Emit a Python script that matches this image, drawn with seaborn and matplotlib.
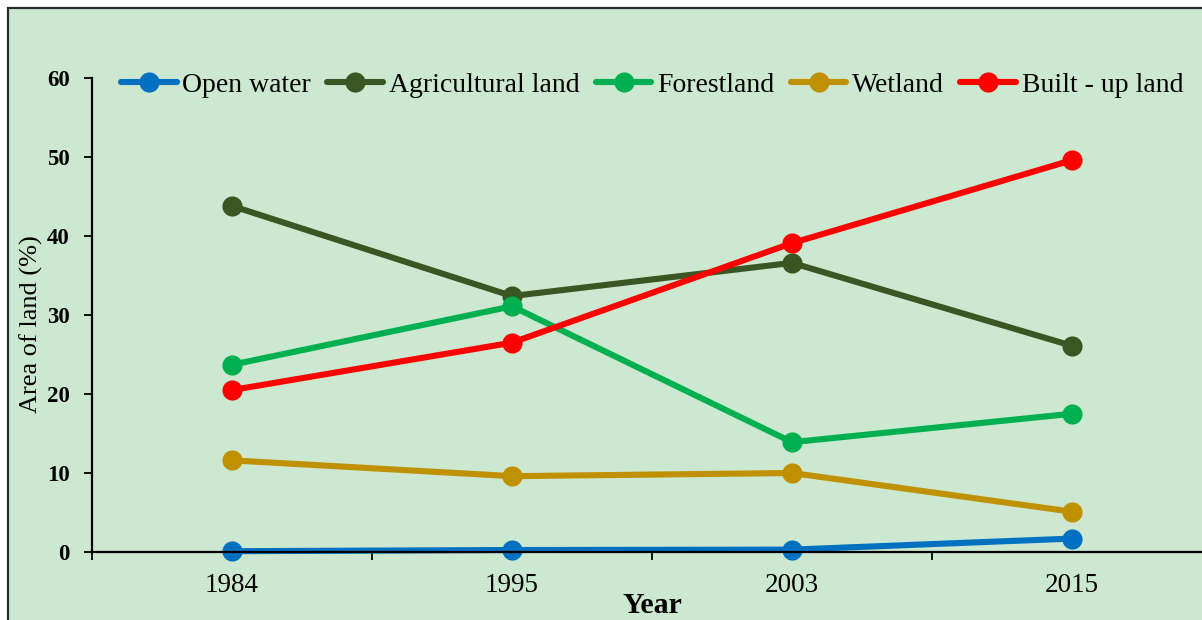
import numpy as np
import pandas as pd
import matplotlib
matplotlib.use("Agg")
import matplotlib.pyplot as plt
from matplotlib.patches import Rectangle
from matplotlib.lines import Line2D
import seaborn as sns

years = ["1984", "1995", "2003", "2015"]
open_water = [0.1, 0.25, 0.3, 1.7]
agricultural = [43.8, 32.4, 36.6, 26.1]
forestland = [23.7, 31.1, 13.9, 17.5]
wetland = [11.6, 9.6, 10.0, 5.1]
built_up = [20.5, 26.5, 39.1, 49.6]

series_names = ["Open water", "Agricultural land", "Forestland", "Wetland", "Built - up land"]
series_values = [open_water, agricultural, forestland, wetland, built_up]
colors = ["#0070C0", "#385723", "#00B050", "#BF9000", "#FF0000"]

rows = []
for name, vals in zip(series_names, series_values):
    for i, v in enumerate(vals):
        rows.append({"pos": i, "Year": years[i], "series": name, "value": v})
df = pd.DataFrame(rows)

sns.set_theme(style="white")
plt.rcParams["font.family"] = ["Liberation Serif", "DejaVu Serif"]
plt.rcParams["text.color"] = "black"
plt.rcParams["axes.labelcolor"] = "black"
plt.rcParams["xtick.color"] = "black"
plt.rcParams["ytick.color"] = "black"

W, H = 1202, 620
fig = plt.figure(figsize=(W / 100, H / 100), dpi=100, facecolor="white")
bg = "#CDE8D1"
fig.patches.append(Rectangle((8 / W, -0.1), 1.2, 1 - 8 / H + 0.1, transform=fig.transFigure,
                             facecolor=bg, edgecolor="#2b2b2b", linewidth=1.6, zorder=-10))

ax = fig.add_axes([92 / W, 1 - 552 / H, (1212 - 92) / W, (552 - 78) / H])
ax.set_facecolor("none")

sns.lineplot(data=df, x="pos", y="value", hue="series", palette=colors,
             hue_order=series_names, marker="o", markersize=14.5, markeredgewidth=0,
             linewidth=4.4, sort=False, ax=ax, legend=False, clip_on=False)

ax.set_xlim(-0.5, 3.5)
ax.set_ylim(0, 60)
ax.set_yticks([0, 10, 20, 30, 40, 50, 60])
ax.set_yticklabels([str(v) for v in [0, 10, 20, 30, 40, 50, 60]], fontweight="bold", fontsize=16.5)
ax.set_xticks([-0.5, 0.5, 1.5, 2.5, 3.5])
ax.set_xticklabels([])
ax.set_xticks([0, 1, 2, 3], minor=True)
ax.set_xticklabels(years, minor=True, fontsize=19.5)
ax.tick_params(axis="x", which="minor", length=0, pad=15, bottom=True)
ax.tick_params(axis="x", which="major", length=6, width=1.3, direction="out", color="black", bottom=True)
ax.tick_params(axis="y", length=6, width=1.3, direction="out", color="black", pad=10, left=True)
for s in ["top", "right"]:
    ax.spines[s].set_visible(False)
for s in ["left", "bottom"]:
    ax.spines[s].set_color("black")
    ax.spines[s].set_linewidth(1.6)

ax.set_xlabel("")
ax.set_ylabel("Area of land (%)", fontsize=19, color="black")
ax.yaxis.set_label_coords((43 - 92) / (1212 - 92), (552 - 324) / (552 - 78))
fig.text(652 / W, 1 - 613 / H, "Year", fontsize=21.5, fontweight="bold", ha="center", va="baseline",
         color="black")

handles = [Line2D([0], [0], color=c, linewidth=4.4, marker="o", markersize=14.5, markeredgewidth=0)
           for c in colors]
leg = ax.legend(handles, series_names, loc="center", bbox_to_anchor=((652 - 92) / (1212 - 92), (552 - 85) / (552 - 78)),
                ncol=5, frameon=False, fontsize=20, handlelength=2.0, handletextpad=0.2,
                columnspacing=0.6, borderaxespad=0)
for t in leg.get_texts():
    t.set_color("black")

fig.savefig("out.png", dpi=100, facecolor="white")
